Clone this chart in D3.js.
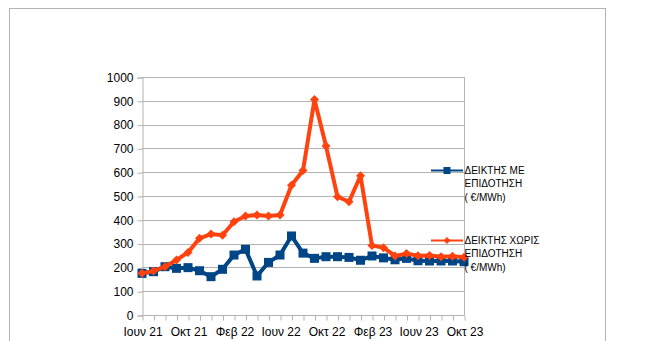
<!DOCTYPE html>
<html><head><meta charset="utf-8">
<script src="https://cdn.jsdelivr.net/npm/d3@7"></script>
<style>body{margin:0;background:#fff}svg{display:block;font-family:"Liberation Sans",Arial,sans-serif}</style>
</head><body><svg id="c" width="657" height="341"></svg>
<script>
const categories = ["Ιουν 21","Ιουλ 21","Αυγ 21","Σεπ 21","Οκτ 21","Νοε 21","Δεκ 21","Ιαν 22","Φεβ 22","Μαρ 22","Απρ 22","Μαϊ 22","Ιουν 22","Ιουλ 22","Αυγ 22","Σεπ 22","Οκτ 22","Νοε 22","Δεκ 22","Ιαν 23","Φεβ 23","Μαρ 23","Απρ 23","Μαϊ 23","Ιουν 23","Ιουλ 23","Αυγ 23","Σεπ 23","Οκτ 23"];
const withSubsidy = [175,182,203,196,199,186,161,192,252,276,164,221,252,332,260,238,245,245,242,230,248,240,232,238,228,227,227,227,224];
const withoutSubsidy = [175,185,203,231,263,322,340,335,392,416,420,416,420,545,607,905,710,497,476,585,292,283,248,258,249,250,245,247,243];
const yTicks = [0,100,200,300,400,500,600,700,800,900,1000];
const seriesNames = [["ΔΕΙΚΤΗΣ ΜΕ","ΕΠΙΔΟΤΗΣΗ","( €/MWh)"],["ΔΕΙΚΤΗΣ ΧΩΡΙΣ","ΕΠΙΔΟΤΗΣΗ","( €/MWh)"]];
const colors = ["#004586","#ff420e"];

const svg = d3.select("#c");
// outer frame
svg.append("rect").attr("x",9.5).attr("y",8.5).attr("width",596).attr("height",340)
  .attr("fill","none").attr("stroke","#b3b3b3").attr("stroke-width",1);

const x = d3.scalePoint().domain(d3.range(categories.length)).range([142,464]);
const y = d3.scaleLinear().domain([0,1000]).range([315,77]);

// gridlines
svg.append("g").selectAll("line").data(yTicks).join("line")
  .attr("x1",142).attr("x2",464)
  .attr("y1",d=>Math.round(y(d))+0.5).attr("y2",d=>Math.round(y(d))+0.5)
  .attr("stroke","#b3b3b3");
// right border of plot
svg.append("line").attr("x1",464.5).attr("x2",464.5).attr("y1",y(1000)).attr("y2",y(0)).attr("stroke","#b3b3b3");

// y axis
const yAxis = d3.axisLeft(y).tickValues(yTicks).tickSize(5).tickPadding(4).tickFormat(d3.format("d"));
const gy = svg.append("g").attr("transform","translate(142.5,0.5)").call(yAxis);
gy.selectAll("path,line").attr("stroke","#b3b3b3");
gy.selectAll("text").attr("font-size",12).attr("fill","#000").attr("font-family","Liberation Sans, Arial, sans-serif");

// x axis
const xAxis = d3.axisBottom(x).tickSize(5).tickPadding(7)
  .tickFormat(i => i % 4 === 0 ? categories[i] : "");
const gx = svg.append("g").attr("transform","translate(0.5,315.5)").call(xAxis);
gx.select("path").attr("stroke","#b3b3b3").attr("d","M142,0H464");
gx.selectAll("line").attr("stroke","#b3b3b3");
gx.selectAll("text").attr("font-size",12).attr("fill","#000").attr("font-family","Liberation Sans, Arial, sans-serif");

const line = d3.line().x((d,i)=>x(i)).y(d=>y(d));

// blue series
svg.append("path").datum(withSubsidy).attr("d",line).attr("fill","none")
  .attr("stroke",colors[0]).attr("stroke-width",4).attr("stroke-linejoin","round");
svg.append("g").selectAll("rect").data(withSubsidy).join("rect")
  .attr("x",(d,i)=>x(i)-4.5).attr("y",d=>y(d)-4.5).attr("width",9).attr("height",9)
  .attr("fill",colors[0]);

// orange series
svg.append("path").datum(withoutSubsidy).attr("d",line).attr("fill","none")
  .attr("stroke",colors[1]).attr("stroke-width",4).attr("stroke-linejoin","round");
svg.append("g").selectAll("path").data(withoutSubsidy).join("path")
  .attr("d",(d,i)=>{const cx=x(i), cy=y(d); return `M${cx},${cy-4.5}L${cx+4.5},${cy}L${cx},${cy+4.5}L${cx-4.5},${cy}Z`;})
  .attr("fill",colors[1]);

// legend
const legY = [170.5, 240.5];
seriesNames.forEach((lines,k)=>{
  const g = svg.append("g");
  g.append("line").attr("x1",431).attr("x2",463).attr("y1",legY[k]).attr("y2",legY[k])
    .attr("stroke",colors[k]).attr("stroke-width",2);
  if(k===0){
    g.append("rect").attr("x",447-3.5).attr("y",legY[k]-3.5).attr("width",7).attr("height",7).attr("fill",colors[k]);
  } else {
    g.append("path").attr("d",`M447,${legY[k]-3.5}L450.5,${legY[k]}L447,${legY[k]+3.5}L443.5,${legY[k]}Z`).attr("fill",colors[k]);
  }
  lines.forEach((t,j)=>{
    g.append("text").attr("x",464.5).attr("y",legY[k]+3.5+j*13.3).attr("font-size",10)
      .attr("fill","#000").text(t);
  });
});
</script></body></html>
